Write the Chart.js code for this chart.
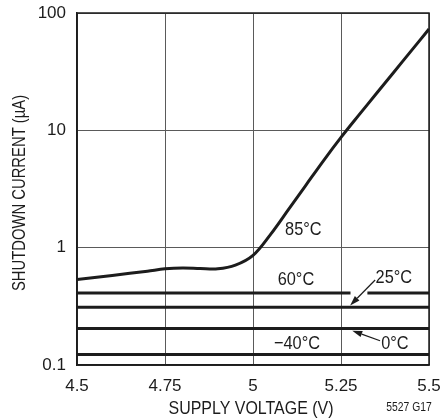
<!DOCTYPE html>
<html>
<head>
<meta charset="utf-8">
<script src="https://cdn.jsdelivr.net/npm/chart.js@4.4.1/dist/chart.umd.min.js"></script>
<style>
  html, body { margin: 0; padding: 0; background: #fff; }
  canvas { display: block; }
</style>
</head>
<body>
<canvas id="shutdownChart" width="444" height="420"></canvas>
<script>
// supply voltage sweep (V) and shutdown current (uA) per temperature
const volt85 = [4.5, 4.6, 4.7, 4.75, 4.8, 4.85, 4.9, 4.95, 5.0, 5.05, 5.1, 5.15, 5.2, 5.25, 5.3, 5.35, 5.4, 5.45, 5.5];
const curr85 = [0.535, 0.58, 0.63, 0.66, 0.672, 0.664, 0.66, 0.71, 0.86, 1.3, 2.1, 3.4, 5.5, 8.7, 13.4, 20.5, 31.3, 47.8, 73];

// the 60°C trace is broken where the 25°C arrow crosses it
const volt60 = [4.5, 5.277, 5.3, 5.325, 5.5];
const curr60 = [0.41, 0.41, null, 0.41, 0.41];

const voltFlat = [4.5, 5.5];
const curr25 = [0.31, 0.31];
const curr0 = [0.205, 0.205];
const currM40 = [0.123, 0.123];

const xTicks = [4.5, 4.75, 5, 5.25, 5.5];
const xTickLabels = ['4.5', '4.75', '5', '5.25', '5.5'];
const yTicks = [0.1, 1, 10, 100];
const yTickLabels = ['0.1', '1', '10', '100'];

const FONT = "'Liberation Sans', Arial, sans-serif";
const INK = '#1c1c1c';

const toPoints = (xs, ys) => xs.map((x, i) => ({ x: x, y: ys[i] }));

function traceStyle(data) {
    return {
        data: data,
        borderColor: INK,
        borderWidth: 3,
        pointRadius: 0,
        fill: false,
        spanGaps: false
    };
}

// curve labels and arrows, placed in data units
const curveLabels = [
    { text: '85°C', x: 5.143, y: 1.41 },
    { text: '60°C', x: 5.122, y: 0.53 },
    { text: '25°C', x: 5.40, y: 0.556 },
    { text: '\u221240°C', x: 5.125, y: 0.152 },
    { text: '0°C', x: 5.403, y: 0.152 }
];
const arrows = [
    { from: [5.347, 0.53], to: [5.276, 0.322] },
    { from: [5.361, 0.161], to: [5.282, 0.196] }
];

// condensed-looking text: squeeze horizontally
function squeezedText(ctx, text, x, y, size, squeeze) {
    ctx.save();
    ctx.translate(x, y);
    ctx.scale(squeeze, 1);
    ctx.font = size + 'px ' + FONT;
    ctx.fillText(text, 0, 0);
    ctx.restore();
}

const decorations = {
    id: 'decorations',
    afterDraw(chart) {
        const ctx = chart.ctx;
        const xs = chart.scales.x;
        const ys = chart.scales.y;
        const area = chart.chartArea;

        ctx.save();
        // plot frame
        ctx.strokeStyle = INK;
        ctx.lineWidth = 1.5;
        ctx.strokeRect(area.left, area.top, area.right - area.left, area.bottom - area.top);

        // curve labels
        ctx.fillStyle = INK;
        ctx.textAlign = 'center';
        ctx.textBaseline = 'middle';
        curveLabels.forEach(l => {
            squeezedText(ctx, l.text, xs.getPixelForValue(l.x), ys.getPixelForValue(l.y), 19, 0.86);
        });

        // arrows pointing at the 25°C and 0°C traces
        arrows.forEach(a => {
            const x1 = xs.getPixelForValue(a.from[0]);
            const y1 = ys.getPixelForValue(a.from[1]);
            const x2 = xs.getPixelForValue(a.to[0]);
            const y2 = ys.getPixelForValue(a.to[1]);
            const ang = Math.atan2(y2 - y1, x2 - x1);
            const len = 10;
            const half = 3.2;
            const bx = x2 - len * Math.cos(ang);
            const by = y2 - len * Math.sin(ang);
            ctx.strokeStyle = INK;
            ctx.lineWidth = 1.2;
            ctx.beginPath();
            ctx.moveTo(x1, y1);
            ctx.lineTo(bx, by);
            ctx.stroke();
            ctx.beginPath();
            ctx.moveTo(x2, y2);
            ctx.lineTo(bx + half * Math.sin(ang), by - half * Math.cos(ang));
            ctx.lineTo(bx - half * Math.sin(ang), by + half * Math.cos(ang));
            ctx.closePath();
            ctx.fill();
        });

        // axis titles
        squeezedText(ctx, 'SUPPLY VOLTAGE (V)', (area.left + area.right) / 2 - 2, 409, 19, 0.84);
        ctx.save();
        ctx.translate(20, (area.top + area.bottom) / 2 + 4);
        ctx.rotate(-Math.PI / 2);
        squeezedText(ctx, 'SHUTDOWN CURRENT (\u00b5A)', 0, 0, 19, 0.78);
        ctx.restore();

        squeezedText(ctx, '5527 G17', 409, 408, 12, 0.86);
        ctx.restore();
    }
};

new Chart(document.getElementById('shutdownChart'), {
    type: 'line',
    data: {
        datasets: [
            Object.assign(traceStyle(toPoints(volt85, curr85)), { tension: 0.35 }),
            traceStyle(toPoints(volt60, curr60)),
            traceStyle(toPoints(voltFlat, curr25)),
            traceStyle(toPoints(voltFlat, curr0)),
            traceStyle(toPoints(voltFlat, currM40))
        ]
    },
    options: {
        responsive: false,
        animation: false,
        layout: {
            padding: { top: 13, right: 15, left: 0, bottom: 0 }
        },
        plugins: {
            legend: { display: false },
            tooltip: { enabled: false }
        },
        scales: {
            x: {
                type: 'linear',
                min: 4.5,
                max: 5.5,
                afterBuildTicks: s => { s.ticks = xTicks.map(v => ({ value: v })); },
                afterFit: s => {
                    s.height = 55;
                    s.paddingLeft = 0;
                    s.paddingRight = 0;
                },
                grid: { color: '#5a5a5a', lineWidth: 1, drawTicks: false },
                border: { color: INK, width: 1.5 },
                ticks: {
                    color: INK,
                    padding: 11,
                    maxRotation: 0,
                    font: { family: FONT, size: 17 },
                    callback: (v, i) => xTickLabels[i]
                }
            },
            y: {
                type: 'logarithmic',
                min: 0.1,
                max: 100,
                afterBuildTicks: s => { s.ticks = yTicks.map(v => ({ value: v })); },
                afterFit: s => {
                    s.width = 77;
                    s.paddingTop = 0;
                    s.paddingBottom = 0;
                },
                grid: { color: '#5a5a5a', lineWidth: 1, drawTicks: false },
                border: { color: INK, width: 1.5 },
                ticks: {
                    color: INK,
                    padding: 11,
                    font: { family: FONT, size: 17 },
                    callback: (v, i) => yTickLabels[i]
                }
            }
        }
    },
    plugins: [decorations]
});
</script>
</body>
</html>
